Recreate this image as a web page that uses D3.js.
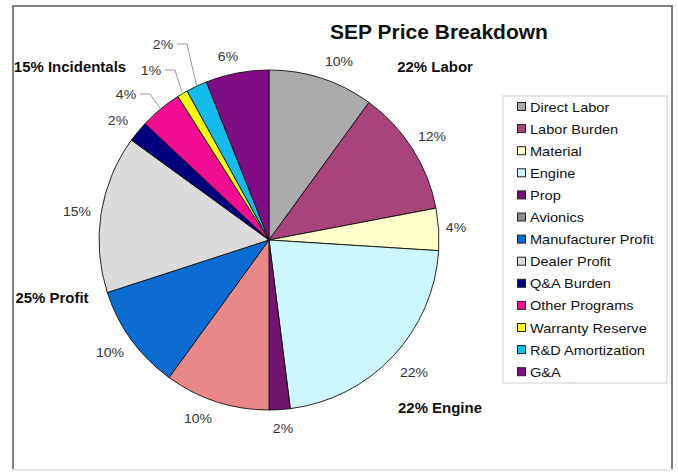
<!DOCTYPE html>
<html><head><meta charset="utf-8">
<script src="https://cdn.jsdelivr.net/npm/d3@7"></script>
<style>body{margin:0;background:#fff}svg{display:block;font-family:Arial,"Liberation Sans",sans-serif}</style>
</head><body><svg id="c" width="678" height="472"></svg>
<script>
const categories = ["Direct Labor","Labor Burden","Material","Engine","Prop","Avionics","Manufacturer Profit","Dealer Profit","Q&A Burden","Other Programs","Warranty Reserve","R&D Amortization","G&A"];
const values = [10,12,4,22,2,10,10,15,2,4,1,2,6];
const sliceColors = ["#ABABAB","#A8447A","#FFFFCC","#CCF7FF","#701470","#E88888","#0A6BD0","#DCDCDC","#00007E","#F20C92","#FFFF00","#12BCEC","#800C86"];
const legendColors = ["#ABABAB","#A8447A","#FFFFCC","#CCF7FF","#701470","#8C8C8C","#0A6BD0","#DCDCDC","#00007E","#F20C92","#FFFF00","#12BCEC","#800C86"];
const groupLabels = ["22% Labor","22% Engine","25% Profit","15% Incidentals"];

const svg = d3.select("#c");
function txt(parent,x,y,s,sx,anchor){
  return parent.append("text").attr("transform",`translate(${x},${y}) scale(${sx},1)`)
    .attr("text-anchor",anchor||"middle").text(s);
}
// frame
svg.append("rect").attr("x",13).attr("y",6).attr("width",659).attr("height",464)
  .attr("fill","#fff").attr("stroke","#7f7f7f").attr("stroke-width",2);
svg.append("line").attr("x1",12).attr("x2",673).attr("y1",470).attr("y2",470).attr("stroke","#e6e6e6").attr("stroke-width",2);

const tg = svg.append("g").attr("font-size",20).attr("font-weight","bold").attr("fill","#111");
txt(tg,439,39,"SEP Price Breakdown",1.05);

const cx=269, cy=240, r=170;
const pie = d3.pie().sort(null).value(d=>d)(values);
const arc = d3.arc().innerRadius(0).outerRadius(r);
const g = svg.append("g").attr("transform",`translate(${cx},${cy})`);
g.selectAll("path").data(pie).join("path").attr("d",arc)
  .attr("fill",(d,i)=>sliceColors[i]).attr("stroke","#111").attr("stroke-width",0.9);

// percentage labels
const labelPos = [[339,66],[432,141],[456,232],[414,377],[283,433],[198,423],[110,357],[77,216],[118,125],null,null,null,[228,61]];
const leader = {9:[126,99],10:[151,75],11:[163,49]};
const lbl = svg.append("g").attr("font-size",13).attr("fill","#333");
pie.forEach((d,i)=>{
  let p = labelPos[i] || leader[i];
  txt(lbl,p[0],p[1],d.value+"%",1.08);
});
// leader lines
Object.keys(leader).forEach(k=>{
  const d = pie[k], p = leader[k];
  const a = (d.startAngle+d.endAngle)/2;
  const ex = cx + Math.sin(a)*r, ey = cy - Math.cos(a)*r;
  const sx = p[0]+14, sy = p[1]-5;
  svg.append("polyline").attr("points",`${sx},${sy} ${sx+10},${sy} ${ex},${ey}`)
    .attr("fill","none").attr("stroke","#999").attr("stroke-width",1);
});

// group labels
const gpos = [[435,72],[440,413],[52,303],[70,72]];
const gl = svg.append("g").attr("font-size",14).attr("font-weight","bold").attr("fill","#111");
groupLabels.forEach((s,i)=>txt(gl,gpos[i][0],gpos[i][1],s,1.07));

// legend
const lx=503, ly=96;
svg.append("rect").attr("x",lx).attr("y",ly).attr("width",164).attr("height",287)
  .attr("fill","#fff").attr("stroke","#cfcfcf").attr("stroke-width",1);
const leg = svg.append("g").attr("font-size",13).attr("fill","#111");
categories.forEach((c,i)=>{
  const y = 107 + i*22.1;
  leg.append("rect").attr("x",517.5).attr("y",y-4.5).attr("width",8).attr("height",8)
    .attr("fill",legendColors[i]).attr("stroke","#222").attr("stroke-width",1);
  txt(leg,530,y+4.5,c,1.12,"start");
});
</script></body></html>
